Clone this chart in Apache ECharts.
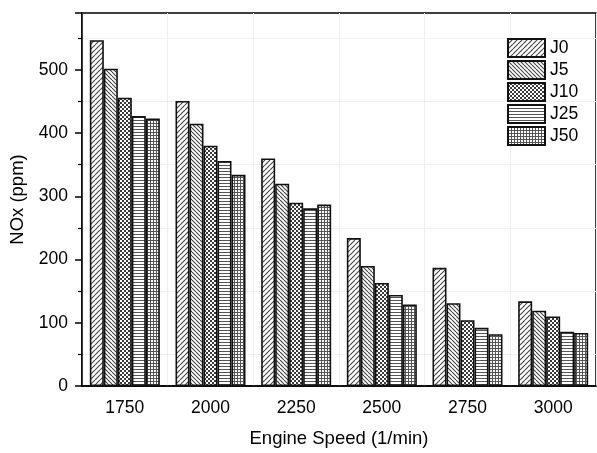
<!DOCTYPE html>
<html>
<head>
<meta charset="utf-8">
<script src="https://cdn.jsdelivr.net/npm/echarts@6/dist/echarts.min.js"></script>
<style>
  html, body { margin: 0; padding: 0; background: #fff; }
  #chart { width: 597px; height: 453px; }
</style>
</head>
<body>
<div id="chart"></div>
<script>
// engine speeds (1/min)
const categories = ['1750', '2000', '2250', '2500', '2750', '3000']

// NOx (ppm) per fuel blend
const seriesNames = ['J0', 'J5', 'J10', 'J25', 'J50']
const j0 = [547, 451, 360, 234, 187, 134]
const j5 = [502, 415, 320, 190, 131, 119]
const j10 = [456, 380, 290, 163, 104, 110]
const j25 = [427, 356, 281, 144, 92, 86]
const j50 = [423, 334, 287, 129, 82, 84]

const yTicks = [0, 100, 200, 300, 400, 500]

const font = 'Liberation Sans, Arial, sans-serif'
const ink = '#000'

// hatch fills, drawn on small tiles
function tile(size, draw) {
  const c = document.createElement('canvas')
  c.width = size
  c.height = size
  const g = c.getContext('2d')
  g.fillStyle = '#fff'
  g.fillRect(0, 0, size, size)
  draw(g, size)
  return { image: c, repeat: 'repeat' }
}

function diagonal(size, forward) {
  return tile(size, (g, s) => {
    g.strokeStyle = '#444'
    g.lineWidth = 1.1
    g.beginPath()
    for (let k = -1; k <= 1; k++) {
      if (forward) {
        g.moveTo(k * s, s)
        g.lineTo(k * s + s, 0)
      }
      else {
        g.moveTo(k * s, 0)
        g.lineTo(k * s + s, s)
      }
    }
    g.stroke()
  })
}

const fills = [
  diagonal(5, true),
  diagonal(4, false),
  tile(4, (g) => {
    g.fillStyle = '#3a3a3a'
    g.fillRect(0, 0, 4, 4)
    g.fillStyle = '#fff'
    g.fillRect(0, 0, 2, 2)
    g.fillRect(2, 2, 2, 2)
  }),
  tile(3, (g) => {
    g.fillStyle = '#555'
    g.fillRect(0, 0, 3, 1)
  }),
  tile(3, (g) => {
    g.fillStyle = '#555'
    g.fillRect(0, 0, 3, 1)
    g.fillRect(0, 0, 1, 3)
  }),
]

const values = [j0, j5, j10, j25, j50]

const chart = echarts.init(document.getElementById('chart'), null, { renderer: 'canvas' })

const option = {
  animation: false,
  backgroundColor: '#fff',
  grid: {
    left: 82,
    right: 1,
    top: 13,
    bottom: 63,
    show: true,
    borderColor: ink,
    borderWidth: 1.5,
  },
  legend: {
    orient: 'vertical',
    left: 507,
    top: 38,
    padding: 0,
    icon: 'rect',
    itemWidth: 37,
    itemHeight: 18,
    itemGap: 2,
    data: seriesNames,
    textStyle: { fontFamily: font, fontSize: 17.5, color: ink },
  },
  xAxis: [
    {
      type: 'category',
      data: categories,
      position: 'bottom',
      name: 'Engine Speed (1/min)',
      nameLocation: 'middle',
      nameGap: 43,
      nameTextStyle: { fontFamily: font, fontSize: 18.5, color: ink },
      axisLine: { lineStyle: { color: ink, width: 1.5 } },
      axisTick: { alignWithLabel: true, length: 7, lineStyle: { color: ink, width: 1.5 } },
      axisLabel: { fontFamily: font, fontSize: 17.5, color: ink, margin: 13 },
      splitLine: { show: false },
    },
    {
      // short ticks and faint lines between the groups
      type: 'category',
      data: categories,
      position: 'bottom',
      axisLine: { show: false },
      axisTick: { length: 4, lineStyle: { color: ink, width: 1.2 } },
      axisLabel: { show: false },
      splitLine: { show: true, lineStyle: { color: '#efefef', width: 1 } },
    },
  ],
  yAxis: {
    type: 'value',
    min: 0,
    max: 590,
    interval: 100,
    name: 'NOx (ppm)',
    nameLocation: 'middle',
    nameGap: 52,
    nameTextStyle: { fontFamily: font, fontSize: 18.5, color: ink },
    axisLine: { show: true, lineStyle: { color: ink, width: 1.5 } },
    axisTick: { show: true, length: 7, lineStyle: { color: ink, width: 1.5 } },
    minorTick: { show: true, splitNumber: 2, length: 4, lineStyle: { color: ink, width: 1.2 } },
    axisLabel: {
      fontFamily: font,
      fontSize: 17.5,
      color: ink,
      margin: 14,
      formatter: v => (yTicks.includes(v) ? String(v) : ''),
    },
    splitLine: { show: false },
    minorSplitLine: { show: true, lineStyle: { color: '#efefef', width: 1 } },
  },
  series: seriesNames.map((name, i) => ({
    name,
    type: 'bar',
    xAxisIndex: 0,
    data: values[i],
    barWidth: 14,
    barGap: '0%',
    itemStyle: {
      color: fills[i],
      borderColor: '#111',
      borderWidth: 1.6,
    },
  })),
}

chart.setOption(option)
</script>
</body>
</html>
